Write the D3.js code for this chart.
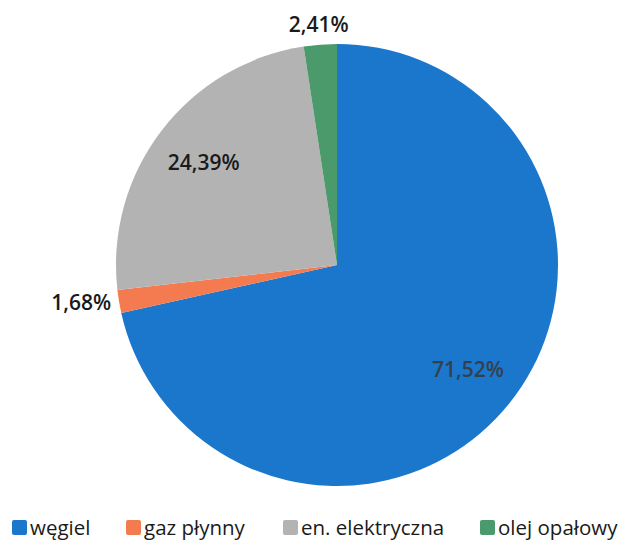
<!DOCTYPE html>
<html>
<head>
<meta charset="utf-8">
<script src="https://cdn.jsdelivr.net/npm/d3@7"></script>
<style>
  html, body { margin: 0; padding: 0; background: #fff; }
  svg { display: block; font-family: "Open Sans", "Noto Sans", sans-serif; }
</style>
</head>
<body>
<svg id="chart" width="628" height="542"></svg>
<script>
// Heating sources, share of households (%)
const categories = ["węgiel", "gaz płynny", "en. elektryczna", "olej opałowy"];
const values = [71.52, 1.68, 24.39, 2.41];
const labels = ["71,52%", "1,68%", "24,39%", "2,41%"];
const colors = ["#1b77cc", "#f47a4f", "#b3b3b3", "#4b9a6b"];
const inside = [true, false, true, false];

const svg = d3.select("#chart");
const cx = 337, cy = 265, r = 221;

const data = categories.map((c, i) => ({ name: c, value: values[i], label: labels[i], color: colors[i], inside: inside[i] }));

const pie = d3.pie().sort(null).value(d => d.value);
const arc = d3.arc().innerRadius(0).outerRadius(r);
const arcs = pie(data);

const g = svg.append("g").attr("transform", `translate(${cx},${cy})`);

g.selectAll("path.slice")
  .data(arcs)
  .join("path")
  .attr("class", "slice")
  .attr("d", arc)
  .attr("fill", d => d.data.color);

// Labels inside large slices
const inArc = d3.arc().innerRadius(r * 0.76).outerRadius(r * 0.76);
g.selectAll("text.in")
  .data(arcs.filter(d => d.data.inside))
  .join("text")
  .attr("class", "in")
  .attr("transform", d => { const [x, y] = inArc.centroid(d); return `translate(${x},${y})`; })
  .attr("text-anchor", "middle")
  .attr("dy", "0.35em")
  .attr("font-size", 21)
  .attr("font-weight", 600)
  .attr("fill", d => d.index === 0 ? "#34414c" : "#1a1a1a")
  .text(d => d.data.label);

// Labels outside small slices
const outR = r + 8;
g.selectAll("text.out")
  .data(arcs.filter(d => !d.data.inside))
  .join("text")
  .attr("class", "out")
  .each(function (d) {
    const a = (d.startAngle + d.endAngle) / 2;
    const sx = Math.sin(a), sy = -Math.cos(a);
    const t = d3.select(this);
    if (Math.abs(sx) < 0.3) {
      t.attr("x", sx * (outR + 12)).attr("y", sy * (outR + 12)).attr("text-anchor", "middle").attr("dy", "0.35em");
    } else {
      t.attr("x", sx * outR).attr("y", sy * outR).attr("text-anchor", sx < 0 ? "end" : "start").attr("dy", "0.35em");
    }
  })
  .attr("font-size", 21)
  .attr("font-weight", 600)
  .attr("fill", "#1a1a1a")
  .text(d => d.data.label);

// Legend along the bottom, one slot per category
const slotX = [12, 126, 283, 480];
const legend = svg.append("g").attr("transform", "translate(0,520)");
data.forEach((d, i) => {
  const item = legend.append("g").attr("transform", `translate(${slotX[i]},0)`);
  item.append("rect").attr("width", 15).attr("height", 15).attr("rx", 2).attr("fill", d.color);
  item.append("text").attr("x", 18).attr("y", 15).attr("font-size", 20.5).attr("fill", "#1a1a1a").text(d.name);
});
</script>
</body>
</html>
